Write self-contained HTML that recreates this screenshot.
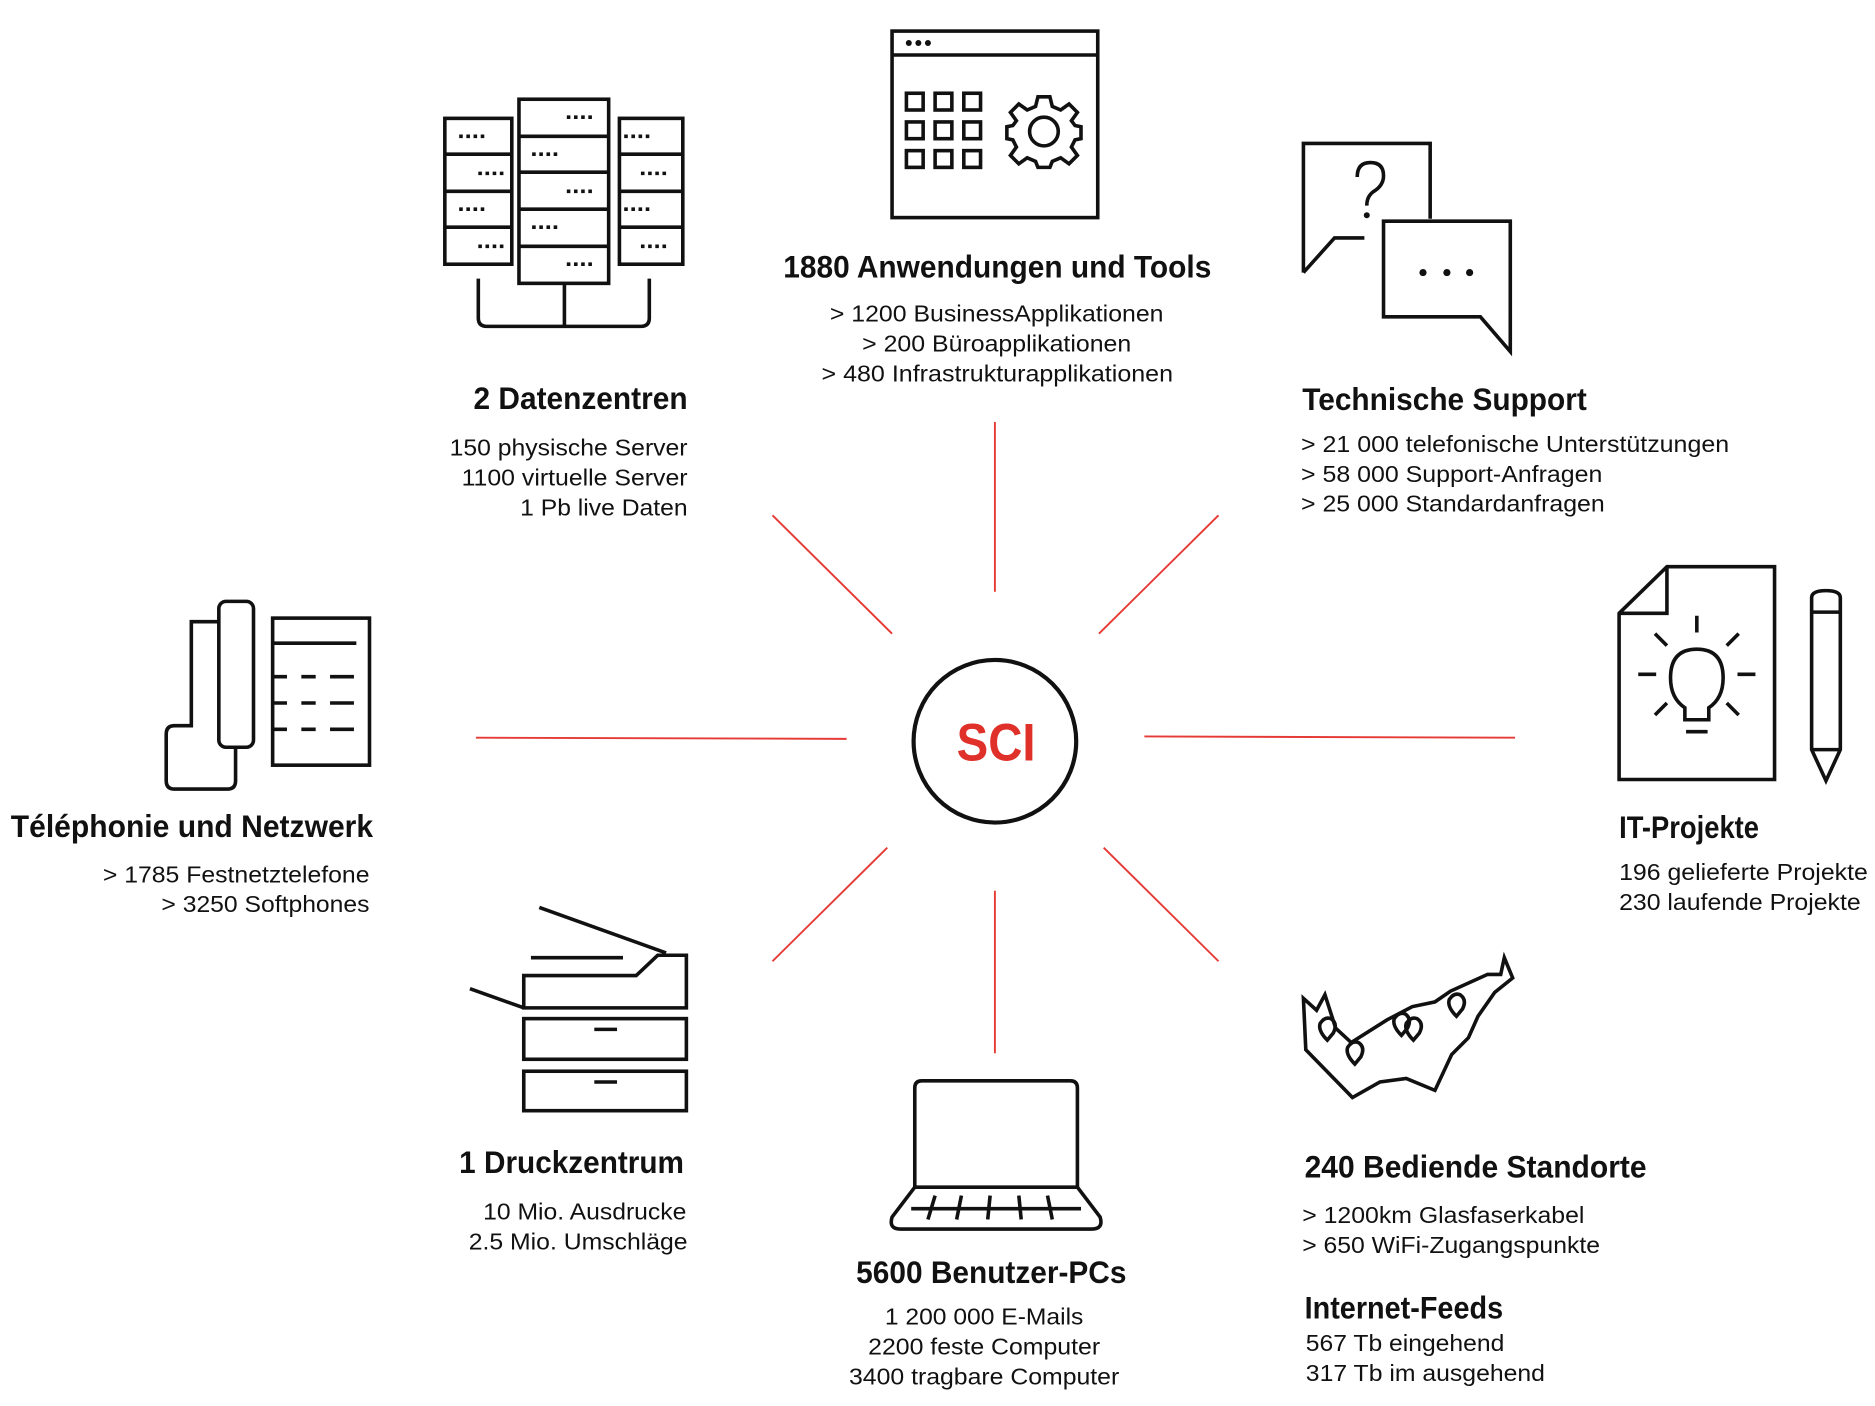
<!DOCTYPE html>
<html><head><meta charset="utf-8"><style>
html,body{margin:0;padding:0;background:#fff}
svg{display:block}
.t{font-family:"Liberation Sans",sans-serif;font-weight:bold;font-size:26px;fill:#111}
.b{font-family:"Liberation Sans",sans-serif;font-size:19px;fill:#111}
.s{fill:none;stroke:#111;stroke-width:3;stroke-linejoin:miter}
.r{stroke:#e53a35;stroke-width:1.6}
</style></head><body>
<svg width="1875" height="1406" viewBox="0 0 1568 1176" preserveAspectRatio="none" xmlns="http://www.w3.org/2000/svg">
<g class="r">
<line x1="832" y1="353" x2="832" y2="495"/>
<line x1="646" y1="431" x2="746" y2="530"/>
<line x1="1019" y1="431" x2="919" y2="530"/>
<line x1="398" y1="617" x2="708" y2="618"/>
<line x1="957" y1="616" x2="1267" y2="617"/>
<line x1="742" y1="709" x2="646" y2="804"/>
<line x1="832" y1="745" x2="832" y2="881"/>
<line x1="923" y1="709" x2="1019" y2="804"/>
</g>
<circle cx="832" cy="620" r="68" fill="none" stroke="#111" stroke-width="3.5"/>
<text x="800" y="636" textLength="66" lengthAdjust="spacingAndGlyphs" font-family="Liberation Sans,sans-serif" font-weight="bold" font-size="44" fill="#e0302a">SCI</text>

<g class="s">
<rect x="372" y="99" width="56" height="122"/>
<line x1="372" y1="129" x2="428" y2="129"/><line x1="372" y1="160" x2="428" y2="160"/><line x1="372" y1="190" x2="428" y2="190"/>
<rect x="434" y="83" width="75" height="154"/>
<line x1="434" y1="114" x2="509" y2="114"/><line x1="434" y1="144" x2="509" y2="144"/><line x1="434" y1="175" x2="509" y2="175"/><line x1="434" y1="206" x2="509" y2="206"/>
<rect x="518" y="99" width="53" height="122"/>
<line x1="518" y1="129" x2="571" y2="129"/><line x1="518" y1="160" x2="571" y2="160"/><line x1="518" y1="190" x2="571" y2="190"/>
<path d="M400 233 V266 Q400 273 407 273 H536 Q543 273 543 266 V233 M472 237 V273"/>
</g>
<g stroke="#111" stroke-width="3" stroke-dasharray="3 3">
<line x1="384" y1="114" x2="408" y2="114"/><line x1="400" y1="145" x2="424" y2="145"/><line x1="384" y1="175" x2="408" y2="175"/><line x1="400" y1="206" x2="424" y2="206"/>
<line x1="474" y1="98" x2="498" y2="98"/><line x1="445" y1="129" x2="469" y2="129"/><line x1="474" y1="160" x2="498" y2="160"/><line x1="445" y1="190" x2="469" y2="190"/><line x1="474" y1="221" x2="498" y2="221"/>
<line x1="522" y1="114" x2="546" y2="114"/><line x1="536" y1="145" x2="560" y2="145"/><line x1="522" y1="175" x2="546" y2="175"/><line x1="536" y1="206" x2="560" y2="206"/>
</g>

<g class="s">
<rect x="746" y="26" width="172" height="156"/>
<line x1="746" y1="46" x2="918" y2="46"/>
<rect x="758" y="78" width="14" height="14"/><rect x="782" y="78" width="14" height="14"/><rect x="806" y="78" width="14" height="14"/>
<rect x="758" y="102" width="14" height="14"/><rect x="782" y="102" width="14" height="14"/><rect x="806" y="102" width="14" height="14"/>
<rect x="758" y="126" width="14" height="14"/><rect x="782" y="126" width="14" height="14"/><rect x="806" y="126" width="14" height="14"/>
<circle cx="873" cy="110" r="12"/>
<path d="M868 81 H878 L880 89 L887 92 L894 87 L901 94 L896 101 L899 105 L904 106 V116 L899 117 L896 123 L901 130 L894 137 L887 132 L880 135 L878 140 H868 L866 135 L859 132 L852 137 L845 130 L850 123 L847 117 L842 116 V106 L847 105 L850 101 L845 94 L852 87 L859 92 L866 89 Z"/>
</g>
<circle cx="760" cy="36" r="2.5" fill="#111"/><circle cx="768" cy="36" r="2.5" fill="#111"/><circle cx="776" cy="36" r="2.5" fill="#111"/>

<g class="s">
<path d="M1090 228 V120 H1196 V183 M1141 199 H1116 L1090 228"/>
<path d="M1157 185 H1263 V294 L1238 265 H1157 Z"/>
<path d="M1135 148 Q1135 136 1146 136 Q1157 136 1157 147 Q1157 155 1149 160 Q1143 164 1143 172"/>
</g>
<circle cx="1143" cy="180" r="2.5" fill="#111"/>
<circle cx="1190" cy="228" r="3" fill="#111"/><circle cx="1210" cy="228" r="3" fill="#111"/><circle cx="1229" cy="228" r="3" fill="#111"/>

<g class="s">
<rect x="228" y="517" width="81" height="123"/>
<line x1="228" y1="538" x2="298" y2="538"/>
<path d="M228 566 h12 M252 566 h12 M276 566 h20 M228 588 h12 M252 588 h12 M276 588 h20 M228 610 h12 M252 610 h12 M276 610 h20"/>
<rect x="183" y="503" width="29" height="122" rx="6"/>
<path d="M183 520 H160 V607 H146 Q139 607 139 614 V653 Q139 660 146 660 H190 Q197 660 197 653 V625"/>
</g>

<g class="s">
<path d="M1354 513 L1394 474 H1484 V652 H1354 Z M1354 513 H1394 V474"/>
<path d="M1409 602 V592 Q1397 584 1397 567 Q1397 543 1419 543 Q1441 543 1441 567 Q1441 584 1429 592 V602 Z M1410 612 H1428"/>
<path d="M1419 515 V529 M1384 530 L1394 540 M1454 530 L1444 540 M1370 564 H1385 M1453 564 H1468 M1384 598 L1394 588 M1454 598 L1444 588"/>
<path d="M1515 500 Q1515 494 1527 494 Q1539 494 1539 500 V627 L1527 653 L1515 627 Z M1515 512 H1539 M1515 627 H1539"/>
</g>

<g class="s">
<rect x="438" y="852" width="136" height="34"/>
<rect x="438" y="896" width="136" height="33"/>
<line x1="497" y1="861" x2="516" y2="861"/><line x1="497" y1="905" x2="516" y2="905"/>
<path d="M438 843 V816 H532 L550 799 H574 V843 Z"/>
<line x1="444" y1="801" x2="521" y2="801"/>
<line x1="451" y1="759" x2="557" y2="797"/>
<line x1="393" y1="827" x2="438" y2="843"/>
</g>

<g class="s">
<path d="M765 993 V910 Q765 904 771 904 H895 Q901 904 901 910 V993"/>
<path d="M765 993 L746 1018 Q743 1028 753 1028 H913 Q923 1028 920 1018 L901 993 Z"/>
<path d="M762 1011 H904 M782 1000 L776 1020 M804 1000 L800 1020 M828 1000 L826 1020 M852 1000 L854 1020 M876 1000 L880 1020"/>
</g>

<g class="s">
<path d="M1090 835 L1101 845 L1108 832 L1117 860 L1130 872 L1160 853 L1181 842 L1200 838 L1213 829 L1244 815 L1255 815 L1258 801 L1265 818 L1250 830 L1236 850 L1228 868 L1214 882 L1200 912 L1176 902 L1154 905 L1131 918 L1092 878 Z"/>
<path d="M1110 870 Q1102 862 1104 856 Q1108 850 1113 852 Q1119 856 1115 864 Z"/>
<path d="M1133 890 Q1125 882 1127 876 Q1131 870 1136 872 Q1142 876 1138 884 Z"/>
<path d="M1172 866 Q1164 858 1166 852 Q1170 846 1175 848 Q1181 852 1177 860 Z"/>
<path d="M1182 870 Q1174 862 1176 856 Q1180 850 1185 852 Q1191 856 1187 864 Z"/>
<path d="M1218 850 Q1210 842 1212 836 Q1216 830 1221 832 Q1227 836 1223 844 Z"/>
</g>

<g class="t">
<text x="655" y="232" textLength="358" lengthAdjust="spacingAndGlyphs">1880 Anwendungen und Tools</text>
<text x="396" y="342" textLength="179" lengthAdjust="spacingAndGlyphs">2 Datenzentren</text>
<text x="1089" y="343" textLength="238" lengthAdjust="spacingAndGlyphs">Technische Support</text>
<text x="9" y="700" textLength="303" lengthAdjust="spacingAndGlyphs">Téléphonie und Netzwerk</text>
<text x="1354" y="701" textLength="117" lengthAdjust="spacingAndGlyphs">IT-Projekte</text>
<text x="384" y="981" textLength="188" lengthAdjust="spacingAndGlyphs">1 Druckzentrum</text>
<text x="716" y="1073" textLength="226" lengthAdjust="spacingAndGlyphs">5600 Benutzer-PCs</text>
<text x="1091" y="985" textLength="286" lengthAdjust="spacingAndGlyphs">240 Bediende Standorte</text>
<text x="1091" y="1103" textLength="166" lengthAdjust="spacingAndGlyphs">Internet-Feeds</text>
</g>
<g class="b">
<text x="694" y="269" textLength="279" lengthAdjust="spacingAndGlyphs">&gt; 1200 BusinessApplikationen</text>
<text x="721" y="294" textLength="225" lengthAdjust="spacingAndGlyphs">&gt; 200 Büroapplikationen</text>
<text x="687" y="319" textLength="294" lengthAdjust="spacingAndGlyphs">&gt; 480 Infrastrukturapplikationen</text>
<text x="376" y="381" textLength="199" lengthAdjust="spacingAndGlyphs">150 physische Server</text>
<text x="386" y="406" textLength="189" lengthAdjust="spacingAndGlyphs">1100 virtuelle Server</text>
<text x="435" y="431" textLength="140" lengthAdjust="spacingAndGlyphs">1 Pb live Daten</text>
<text x="1088" y="378" textLength="358" lengthAdjust="spacingAndGlyphs">&gt; 21 000 telefonische Unterstützungen</text>
<text x="1088" y="403" textLength="252" lengthAdjust="spacingAndGlyphs">&gt; 58 000 Support-Anfragen</text>
<text x="1088" y="428" textLength="254" lengthAdjust="spacingAndGlyphs">&gt; 25 000 Standardanfragen</text>
<text x="86" y="738" textLength="223" lengthAdjust="spacingAndGlyphs">&gt; 1785 Festnetztelefone</text>
<text x="135" y="763" textLength="174" lengthAdjust="spacingAndGlyphs">&gt; 3250 Softphones</text>
<text x="1354" y="736" textLength="208" lengthAdjust="spacingAndGlyphs">196 gelieferte Projekte</text>
<text x="1354" y="761" textLength="202" lengthAdjust="spacingAndGlyphs">230 laufende Projekte</text>
<text x="404" y="1020" textLength="170" lengthAdjust="spacingAndGlyphs">10 Mio. Ausdrucke</text>
<text x="392" y="1045" textLength="183" lengthAdjust="spacingAndGlyphs">2.5 Mio. Umschläge</text>
<text x="740" y="1108" textLength="166" lengthAdjust="spacingAndGlyphs">1 200 000 E-Mails</text>
<text x="726" y="1133" textLength="194" lengthAdjust="spacingAndGlyphs">2200 feste Computer</text>
<text x="710" y="1158" textLength="226" lengthAdjust="spacingAndGlyphs">3400 tragbare Computer</text>
<text x="1089" y="1023" textLength="236" lengthAdjust="spacingAndGlyphs">&gt; 1200km Glasfaserkabel</text>
<text x="1089" y="1048" textLength="249" lengthAdjust="spacingAndGlyphs">&gt; 650 WiFi-Zugangspunkte</text>
<text x="1092" y="1130" textLength="166" lengthAdjust="spacingAndGlyphs">567 Tb eingehend</text>
<text x="1092" y="1155" textLength="200" lengthAdjust="spacingAndGlyphs">317 Tb im ausgehend</text>
</g>
</svg>
</body></html>
